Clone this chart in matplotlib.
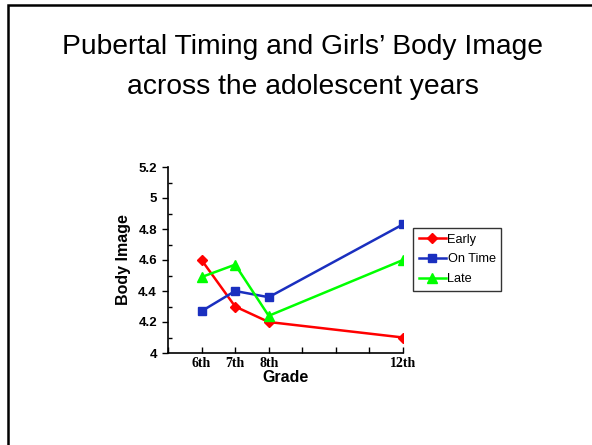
import matplotlib
matplotlib.use("Agg")
import matplotlib.pyplot as plt
from matplotlib.patches import Rectangle
from matplotlib.ticker import MultipleLocator

grades = [6, 7, 8, 12]
grade_labels = ["6th", "7th", "8th", "12th"]
early = [4.60, 4.30, 4.20, 4.10]
on_time = [4.27, 4.40, 4.36, 4.83]
late = [4.49, 4.57, 4.24, 4.60]

fig = plt.figure(figsize=(5.92, 4.45), dpi=100)
fig.patch.set_facecolor("white")

# slide border (cropped on right/bottom)
fig.add_artist(Rectangle((7.5 / 592, -0.1), 1.2, (445 - 5.5) / 445 + 0.1,
                         transform=fig.transFigure, fill=False,
                         edgecolor="black", linewidth=1.8))

fig.text(303 / 592, 1 - 54 / 445, "Pubertal Timing and Girls’ Body Image",
         ha="center", va="baseline", fontsize=20.3, family="Liberation Sans")
fig.text(303 / 592, 1 - 94 / 445, "across the adolescent years",
         ha="center", va="baseline", fontsize=20.3, family="Liberation Sans")

ax = fig.add_axes([168 / 592, 1 - 353 / 445, (403 - 168) / 592, (353 - 167) / 445])
ax.plot(grades, early, color="#ff0000", marker="D", markersize=5.5, lw=1.8, label="Early")
ax.plot(grades, on_time, color="#1a2fbf", marker="s", markersize=6, lw=1.8, label="On Time")
ax.plot(grades, late, color="#00ff00", marker="^", markersize=7.5, lw=1.8, label="Late")

ax.set_xlim(5, 12)
ax.set_ylim(4, 5.2)
for s in ["top", "right"]:
    ax.spines[s].set_visible(False)
ax.spines["left"].set_linewidth(1.2)
ax.spines["bottom"].set_linewidth(1.2)
ax.set_xticks([5, 6, 7, 8, 9, 10, 11, 12])
ax.set_xticklabels(["", "6th", "7th", "8th", "", "", "", "12th"],
                   family="Liberation Serif", fontweight="bold", fontsize=10)
ax.tick_params(axis="x", direction="in", length=4, width=1, pad=3)
ax.yaxis.set_minor_locator(MultipleLocator(0.1))
ax.set_yticks([4, 4.2, 4.4, 4.6, 4.8, 5, 5.2])
ax.set_yticklabels(["4", "4.2", "4.4", "4.6", "4.8", "5", "5.2"],
                   family="Liberation Sans", fontweight="bold", fontsize=9.5)
ax.tick_params(axis="y", which="major", direction="out", length=4, width=1, pad=4)
ax.tick_params(axis="y", which="minor", direction="in", length=3, width=1)
ax.set_xlabel("Grade", family="Liberation Sans", fontweight="bold", fontsize=11.5, labelpad=0)
ax.set_ylabel("Body Image", family="Liberation Sans", fontweight="bold", fontsize=11.5, labelpad=5)

leg = fig.legend(loc="upper left", bbox_to_anchor=(413 / 592, 1 - 228 / 445),
                 frameon=True, fancybox=False, edgecolor="black",
                 prop={"family": "Liberation Sans", "size": 9.2},
                 handlelength=2.1, handletextpad=0.15, borderpad=0.45,
                 labelspacing=0.6, borderaxespad=0)
leg.get_frame().set_linewidth(1.0)

fig.savefig("out.png", dpi=100)
